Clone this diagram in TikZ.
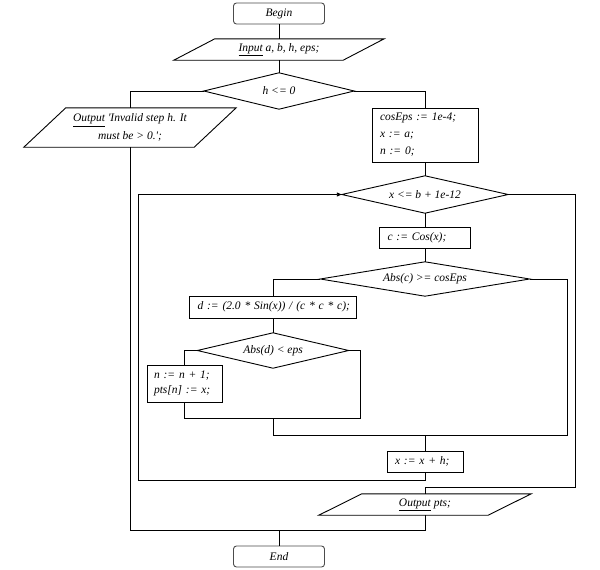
\documentclass[tikz,border=0pt]{standalone}
\usepackage{fontspec}
\setmainfont{Liberation Serif}
\usetikzlibrary{arrows.meta}
\begin{document}
\begin{tikzpicture}[x=1pt,y=-1pt,
  every node/.style={font=\fontsize{11.5}{15}\selectfont\itshape, inner sep=0pt},
  ln/.style={line width=0.9pt, black},
  proc/.style={draw, line width=0.9pt, inner xsep=8pt, inner ysep=0pt, align=left},
  term/.style={draw=black!70, line width=0.9pt, rounded corners=3pt, minimum width=91pt, minimum height=21pt},
  hold/.style={inner sep=0pt, align=center}
]
\fill[white] (0,0) rectangle (600,570);
\useasboundingbox (0,0) rectangle (600,570);

% nodes
\node[term] (begin) at (279,13.5) {Begin};
\node[hold, minimum width=169pt, minimum height=21pt] (inp) at (279,49.5) {\underline{Input} a, b, h, eps;};
\node[hold, minimum width=150pt, minimum height=36pt] (d1) at (279,91) {h <= 0};
\node[hold, minimum width=170pt, minimum height=39pt, font=\fontsize{11.5}{17.5}\selectfont\itshape] (out1) at (130,127.5) {\underline{Output} \textquotesingle Invalid step h. It\\must be > 0.\textquotesingle ;};
\node[proc, text width=90pt, minimum height=54pt, font=\fontsize{11.5}{17}\selectfont\itshape] (init) at (425,135) {cosEps := 1e-4;\\x := a;\\n := 0;};
\node[hold, minimum width=166pt, minimum height=37pt] (d2) at (425,194.5) {x <= b + 1e-12};
\node[proc, text width=75pt, minimum height=21pt, inner xsep=8pt] (cbox) at (425,237.5) {\mbox{c := Cos(x);}};
\node[hold, minimum width=209pt, minimum height=34pt] (d3) at (425,279) {Abs(c) >= cosEps};
\node[proc, text width=151pt, minimum height=22pt] (dbox) at (273,307) {\mbox{d := (2.0 * Sin(x)) / (c * c * c);}};
\node[hold, minimum width=151pt, minimum height=35pt] (d4) at (273,350.5) {Abs(d) < eps};
\node[proc, text width=61pt, minimum height=37pt, inner xsep=7pt] (nbox) at (184.5,383.5) {n := n + 1;\\pts[n] := x;};
\node[proc, text width=60pt, minimum height=21pt] (xbox) at (425,461.5) {\mbox{x := x + h;}};
\node[hold, minimum width=169pt, minimum height=21pt] (outp) at (425,504.5) {\underline{Output} pts;};
\node[term] (end) at (279,556.5) {End};

% shape outlines
\foreach \n in {d1,d2,d3,d4}
  \draw[ln] (\n.north) -- (\n.east) -- (\n.south) -- (\n.west) -- cycle;
\foreach \n/\s in {inp/20.5,out1/21,outp/21.5}
  \draw[ln] ([xshift=\s pt]\n.north west) -- ([xshift=\s pt]\n.north east)
    -- ([xshift=-\s pt]\n.south east) -- ([xshift=-\s pt]\n.south west) -- cycle;

% helper coordinates
\coordinate (j4L) at (184.5,418);
\coordinate (j4R) at (360,418);
\coordinate (j3L) at (273,435);
\coordinate (j3R) at (567,435);
\coordinate (lb) at (138,480);
\coordinate (r2) at (575,487);
\coordinate (cL) at (130,530);
\coordinate (cR) at (425,530);

% connectors
\draw[ln] (begin.south) -- (inp.north);
\draw[ln] (inp.south) -- (d1.north);
\draw[ln] (d1.west) -- (d1.west -| out1.north) -- (out1.north);
\draw[ln] (d1.east) -- (d1.east -| init.north) -- (init.north);
\draw[ln] (init.south) -- (d2.north);
\draw[ln] (d2.south) -- (cbox.north);
\draw[ln] (cbox.south) -- (d3.north);
\draw[ln] (d3.west) -- (d3.west -| dbox.north) -- (dbox.north);
\draw[ln] (dbox.south) -- (d4.north);
\draw[ln] (d4.west) -- (d4.west -| nbox.north) -- (nbox.north);
\draw[ln] (nbox.south) -- (j4L) -- (j4R) -- (j4R |- d4.east) -- (d4.east);
\draw[ln] (d4.south |- j4L) -- (j3L);
\draw[ln] (d3.east) -- (d3.east -| j3R) -- (j3R) -- (j3L);
\draw[ln] (j3L -| xbox.north) -- (xbox.north);
\draw[ln, -{Triangle[length=5pt,width=4pt]}] (xbox.south) -- (xbox.south |- lb) -- (lb) -- (lb |- d2.west) -- (d2.west);
\draw[ln] (d2.east) -- (d2.east -| r2) -- (r2) -- (r2 -| outp.north) -- (outp.north);
\draw[ln] (out1.south) -- (cL) -- (cR) -- (outp.south);
\draw[ln] (end.north) -- (end.north |- cL);
\end{tikzpicture}
\end{document}
